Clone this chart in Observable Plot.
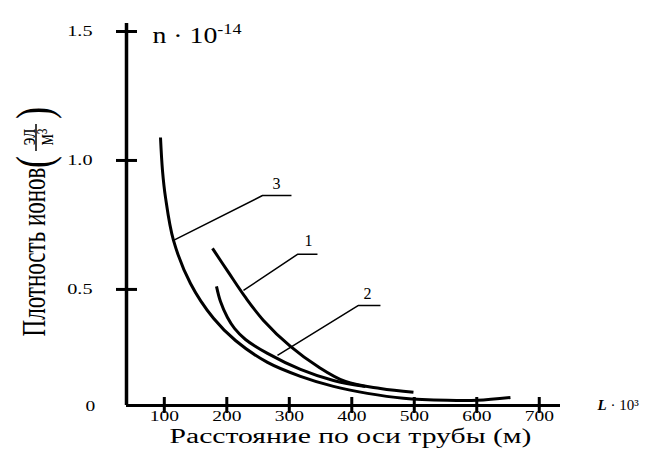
<!DOCTYPE html>
<html><head><meta charset="utf-8">
<script src="https://cdn.jsdelivr.net/npm/d3@7"></script>
<script src="https://cdn.jsdelivr.net/npm/@observablehq/plot@0.6"></script>
<style>body{margin:0;background:#fff}</style>
</head><body><div id="chart"></div>
<script>
// Tick values
const xTicks = [100, 200, 300, 400, 500, 600, 700];
const yTicks = [0.5, 1.0, 1.5];

// Curve 1
const curve1X = [177.1, 202.7, 229.9, 258.7, 301.9, 345.1, 389.9, 445.9, 498.7];
const curve1Y = [0.659, 0.566, 0.469, 0.380, 0.279, 0.202, 0.143, 0.116, 0.101];
// Curve 2
const curve2X = [183.5, 189.9, 201.1, 212.3, 229.9, 265.1, 317.9, 370.7, 421.9];
const curve2Y = [0.512, 0.453, 0.391, 0.349, 0.306, 0.252, 0.190, 0.147, 0.124];
// Curve 3
const curve3X = [93.9, 97.1, 101.9, 114.7, 141.9, 178.7, 213.9, 265.1, 317.9, 370.7, 425.1, 482.7, 553.0, 601.0, 653.9];
const curve3Y = [1.089, 0.961, 0.857, 0.690, 0.523, 0.388, 0.302, 0.217, 0.163, 0.124, 0.097, 0.078, 0.070, 0.070, 0.081];

// Leader lines and curve numbers
const leader1X = [226.7, 313.1, 345.1], leader1Y = [0.496, 0.636, 0.636];
const leader2X = [281.1, 410.7, 445.9], leader2Y = [0.244, 0.438, 0.438];
const leader3X = [114.7, 257.1, 303.5], leader3Y = [0.690, 0.864, 0.864];
const labelNames = ["1", "2", "3"];
const labelX = [330.7, 425.1, 279.5];
const labelY = [0.690, 0.484, 0.911];

const toRows = (name, xs, ys) => xs.map((x, i) => ({series: name, x, y: ys[i]}));
const curves = [
  ...toRows("1", curve1X, curve1Y),
  ...toRows("2", curve2X, curve2Y),
  ...toRows("3", curve3X, curve3Y)
];
const leaders = [
  ...toRows("1", leader1X, leader1Y),
  ...toRows("2", leader2X, leader2Y),
  ...toRows("3", leader3X, leader3Y)
];
const labels = labelNames.map((t, i) => ({t, x: labelX[i], y: labelY[i]}));

const FONT = "Liberation Serif";

const svg = Plot.plot({
  width: 645, height: 452,
  marginLeft: 126, marginRight: 85, marginTop: 23, marginBottom: 47,
  x: {domain: [39.5, 734], axis: null},
  y: {domain: [0.05, 1.531], axis: null},
  marks: [
    Plot.ruleY([0.05], {stroke: "black", strokeWidth: 3}),
    Plot.ruleX([39.5], {stroke: "black", strokeWidth: 3.5}),
    Plot.ruleY(yTicks, {y: d => d, insetRight: 434 - 21, dx: -10, strokeWidth: 3}),
    Plot.ruleX(xTicks, {x: d => d, insetTop: 382 - 16, dy: 8, strokeWidth: 3}),
    Plot.text(yTicks, {y: d => d, text: d => d.toFixed(1), frameAnchor: "left", textAnchor: "end", dx: -34, fontSize: 15, fontFamily: FONT}),
    Plot.text(xTicks, {x: d => d, text: d => String(d), frameAnchor: "bottom", dy: 15, fontSize: 15, fontFamily: FONT}),
    Plot.text(["0"], {frameAnchor: "bottom-left", dx: -41, dy: 5, fontSize: 15, fontFamily: FONT}),
    Plot.text(["Расстояние по оси трубы (м)"], {frameAnchor: "bottom", dx: 7, dy: 37, fontSize: 20, fontFamily: FONT}),
    Plot.text(["n · 10"], {frameAnchor: "top-left", dx: 26, dy: 3, textAnchor: "start", fontSize: 23, fontFamily: FONT}),
    Plot.text(["L"], {frameAnchor: "bottom-right", dx: 37, dy: 4, textAnchor: "start", fontSize: 15, fontWeight: "bold", fontStyle: "italic", fontFamily: FONT}),
    Plot.line(leaders, {x: "x", y: "y", z: "series", stroke: "black", strokeWidth: 1.5, strokeLinecap: "butt"}),
    Plot.line(curves, {x: "x", y: "y", z: "series", stroke: "black", strokeWidth: 3, curve: "catmull-rom", strokeLinecap: "butt"}),
    Plot.text(labels, {x: "x", y: "y", text: "t", fontSize: 16, fontFamily: FONT})
  ]
});
document.getElementById("chart").appendChild(svg);

const allText = () => d3.select(svg).selectAll("text");
function stretchWhere(test, f, target) {
  allText().filter(function() { return test(this.textContent); }).each(function() {
    const w = target || this.getComputedTextLength() * f;
    if (w > 0) {
      this.setAttribute("textLength", w);
      this.setAttribute("lengthAdjust", "spacingAndGlyphs");
    }
  });
}
stretchWhere(t => xTicks.map(String).includes(t), 1.3);
stretchWhere(t => yTicks.map(d => d.toFixed(1)).includes(t), 1.35);
stretchWhere(t => t === "0", 1.3);
stretchWhere(t => t.startsWith("Расстояние"), 1, 362);

// superscripts
allText().filter(function() { return this.textContent === "n · 10"; })
  .append("tspan").attr("font-size", 15).attr("dy", -9).text("-14");
stretchWhere(t => t === "n · 10-14", 1, 89);
allText().filter(function() { return this.textContent === "L"; })
  .append("tspan").attr("font-weight", "normal").attr("font-style", "normal").text(" · 10³");

// Y axis title, rotated
const g = d3.select(svg).append("g").attr("fill", "black").attr("font-family", FONT)
  .attr("text-anchor", "middle").attr("dominant-baseline", "central");
g.append("text")
  .attr("transform", "translate(34,252) scale(1.35,1) rotate(-90)")
  .attr("font-size", 25).attr("textLength", 169).attr("lengthAdjust", "spacingAndGlyphs")
  .text("Плотность ионов");
g.append("text")
  .attr("transform", "translate(34,162) scale(1.4,1) rotate(-90)")
  .attr("font-size", 36).text("(");
g.append("text")
  .attr("transform", "translate(34,113) scale(1.4,1) rotate(-90)")
  .attr("font-size", 36).text(")");
g.append("text")
  .attr("transform", "translate(27,137) scale(1.3,1) rotate(-90)")
  .attr("font-size", 18).text("эл");
g.append("text")
  .attr("transform", "translate(45,137) scale(1.3,1) rotate(-90)")
  .attr("font-size", 18).text("м³");
g.append("line").attr("x1", 36).attr("x2", 36).attr("y1", 124).attr("y2", 151)
  .attr("stroke", "black").attr("stroke-width", 1.5);
</script>
</body></html>
